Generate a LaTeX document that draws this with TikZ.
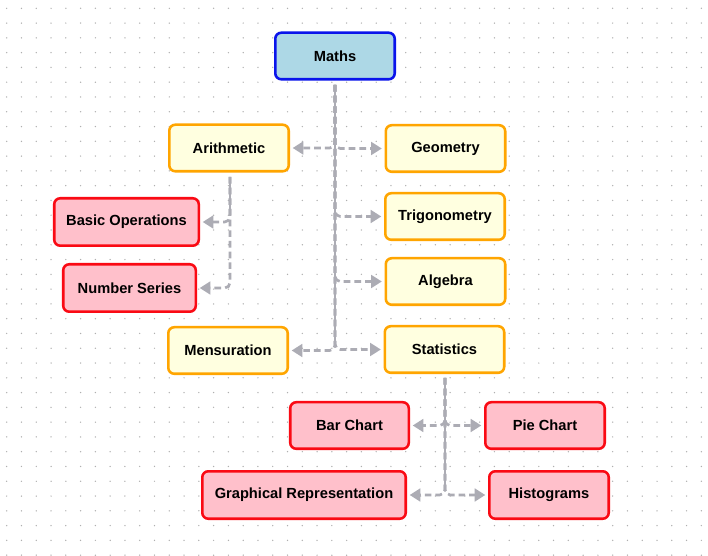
\documentclass[tikz,border=0pt]{standalone}
\usepackage{fontspec}
\setmainfont{Liberation Sans}
\usetikzlibrary{arrows.meta}
\definecolor{conn}{RGB}{172,172,180}
\definecolor{dotc}{RGB}{175,175,175}
\definecolor{mblue}{RGB}{173,216,230}
\definecolor{mborder}{RGB}{10,20,235}
\definecolor{yfill}{RGB}{255,255,224}
\definecolor{oborder}{RGB}{255,165,0}
\definecolor{pfill}{RGB}{255,192,203}
\definecolor{rborder}{RGB}{250,10,20}
\tikzset{
  box/.style={draw, line width=1.9pt, rounded corners=4.5pt, inner sep=0pt,
    font=\fontsize{11}{13}\selectfont\bfseries, text=black},
  rootbox/.style={box, fill=mblue, draw=mborder},
  subbox/.style={box, fill=yfill, draw=oborder},
  leafbox/.style={box, fill=pfill, draw=rborder},
  dline/.style={draw=conn, line width=2pt, dash pattern=on 5pt off 3pt,
    rounded corners=4pt, shorten >=2pt,
    -{Triangle[length=8pt,width=9.5pt,fill=conn]}},
  sline/.style={draw=conn, line width=2pt}
}
\begin{document}
\begin{tikzpicture}[x=0.75pt,y=-0.75pt]
\useasboundingbox (0,0) rectangle (708,556);
\fill[white] (0,0) rectangle (708,556);
\foreach \i in {0,...,47}{\foreach \j in {0,...,37}{
  \fill[dotc] (6.7+14.78*\i, 8.3+14.78*\j) circle (0.55pt);}}

% nodes
\node[rootbox, minimum width=89.6pt, minimum height=34.9pt] (maths) at (335,56) {Maths};
\node[subbox, minimum width=89.6pt, minimum height=34.9pt] (arith) at (229,148) {Arithmetic};
\node[subbox, minimum width=89.6pt, minimum height=34.9pt] (geom) at (445.5,148.5) {Geometry};
\node[subbox, minimum width=89.6pt, minimum height=34.9pt] (trig) at (445,216.5) {Trigonometry};
\node[subbox, minimum width=89.6pt, minimum height=34.9pt] (alg) at (445.5,281.5) {Algebra};
\node[subbox, minimum width=89.6pt, minimum height=34.9pt] (mens) at (228,350.5) {Mensuration};
\node[subbox, minimum width=89.6pt, minimum height=34.9pt] (stats) at (444.5,349.5) {Statistics};
\node[leafbox, minimum width=108.4pt, minimum height=35.6pt] (basic) at (126.5,222) {Basic Operations};
\node[leafbox, minimum width=99.4pt, minimum height=35.6pt] (numser) at (129.5,288) {Number Series};
\node[leafbox, minimum width=88.9pt, minimum height=34.9pt] (bar) at (349.5,425.5) {Bar Chart};
\node[leafbox, minimum width=89.6pt, minimum height=34.9pt] (pie) at (545,425.5) {Pie Chart};
\node[leafbox, minimum width=152.6pt, minimum height=35.6pt] (graph) at (304,495) {Graphical Representation};
\node[leafbox, minimum width=89.6pt, minimum height=35.6pt] (hist) at (549,495) {Histograms};

% Maths connectors
\coordinate (mtop) at (335,85);
\coordinate (mend) at (335,343);
\draw[dline] (mtop) |- (arith.east);
\draw[dline] (mtop) |- (geom.west);
\draw[dline] (mtop) |- (trig.west);
\draw[dline] (mtop) |- (alg.west);
\draw[dline] (mtop) |- (mens.east);
\draw[dline] (mtop) |- (stats.west);
\draw[sline] (mtop) -- (mend);

% Arithmetic connectors
\coordinate (atop) at (230,177);
\coordinate (aend) at (230,216);
\draw[dline] (atop) |- (basic.east);
\draw[dline] (atop) |- (numser.east);
\draw[sline] (atop) -- (aend);

% Statistics connectors
\coordinate (stop) at (445,378);
\coordinate (send) at (445,489);
\draw[dline] (stop) |- (bar.east);
\draw[dline] (stop) |- (pie.west);
\draw[dline] (stop) |- (graph.east);
\draw[dline] (stop) |- (hist.west);
\draw[sline] (stop) -- (send);
\end{tikzpicture}
\end{document}
